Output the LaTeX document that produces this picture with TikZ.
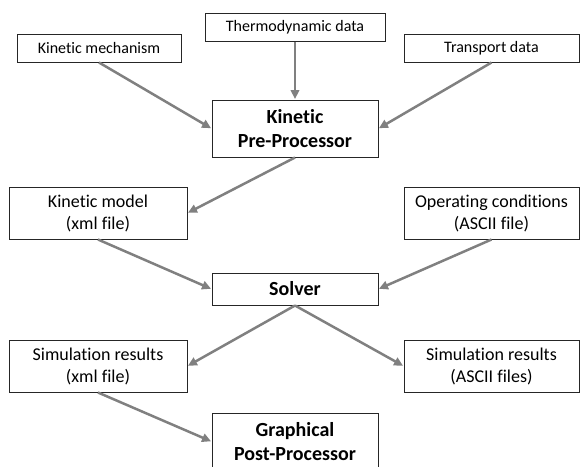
\documentclass[tikz,border=0pt]{standalone}
\usepackage{fontspec}
\setmainfont{Carlito}[Ligatures=CommonOff]
\usetikzlibrary{arrows.meta}
\tikzset{
  box/.style={draw=black!85, line width=1pt, fill=white, align=center, inner sep=0pt, font=\fontsize{18}{22}\selectfont},
  smallbox/.style={box, font=\fontsize{16}{19}\selectfont},
  boldbox/.style={box, font=\fontsize{20}{24}\selectfont\bfseries},
  flow/.style={draw=black!50, line width=2.5pt, -{Triangle[length=9pt,width=8.5pt]}, shorten >=0.5pt}
}
\begin{document}
\begin{tikzpicture}[x=1pt, y=-1pt]
\useasboundingbox (0,0) rectangle (581,466);
\clip (0,0) rectangle (581,466);
\node[smallbox, minimum width=180pt, minimum height=28pt] (thermo) at (295,27) {Thermodynamic data};
\node[smallbox, minimum width=164pt, minimum height=28pt] (km) at (99,48) {Kinetic mechanism};
\node[smallbox, minimum width=175pt, minimum height=28pt] (tr) at (491.5,48) {Transport data};
\node[boldbox, minimum width=166pt, minimum height=57pt] (pre) at (295,128.5) {Kinetic\\Pre-Processor};
\node[box, minimum width=178pt, minimum height=52pt] (model) at (98,213) {Kinetic model\\(xml file)};
\node[box, minimum width=175pt, minimum height=52pt] (op) at (491.5,213) {Operating conditions\\(ASCII file)};
\node[boldbox, minimum width=166pt, minimum height=32pt] (solver) at (295,289) {Solver};
\node[box, minimum width=178pt, minimum height=52pt] (simx) at (98,366) {Simulation results\\(xml file)};
\node[box, minimum width=175pt, minimum height=52pt] (sima) at (491.5,366) {Simulation results\\(ASCII files)};
\node[boldbox, minimum width=166pt, minimum height=57pt] (graph) at (295,441.5) {Graphical\\Post-Processor};
\draw[flow] (km.south) -- (pre.west);
\draw[flow] (thermo.south) -- (pre.north);
\draw[flow] (tr.south) -- (pre.east);
\draw[flow] (pre.south) -- (model.east);
\draw[flow] (model.south) -- (solver.west);
\draw[flow] (op.south) -- (solver.east);
\draw[flow] (solver.south) -- (simx.east);
\draw[flow] (solver.south) -- (sima.west);
\draw[flow] (simx.south) -- (graph.west);
\end{tikzpicture}
\end{document}
